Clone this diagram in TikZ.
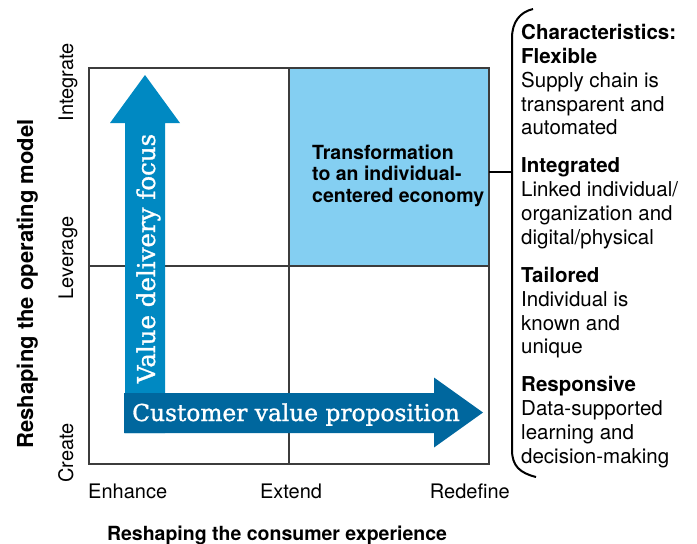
\documentclass[tikz,border=0pt]{standalone}
\usepackage{fontspec}
\setmainfont{TeX Gyre Heros}
\newfontfamily\slabfont[FakeBold=1.2]{DejaVu Serif}
\definecolor{skyfill}{RGB}{132,207,242}
\definecolor{focusblue}{RGB}{0,137,194}
\definecolor{propblue}{RGB}{0,103,158}
\definecolor{gridgray}{RGB}{60,60,60}

\begin{document}
\begin{tikzpicture}[x=1pt,y=-1pt,
  axislabel/.style={font=\fontsize{20}{24}\selectfont, inner sep=0pt},
  axistitle/.style={font=\fontsize{19.5}{23}\selectfont\bfseries, inner sep=0pt},
  arrowtext/.style={font=\fontsize{23.3}{28}\selectfont\slabfont, text=white, inner sep=0pt}]
\useasboundingbox (0,0) rectangle (697,544);
\node[fill=skyfill, minimum width=200pt, minimum height=198pt, inner sep=0pt] (goal) at (389,167) {};
\draw[gridgray, line width=1.4pt] (89,68) rectangle (489,464);
\draw[gridgray, line width=1.4pt] (289,68) -- (289,464);
\draw[gridgray, line width=1.4pt] (89,266) -- (489,266);
\fill[focusblue] (125,433) -- (125,123) -- (110,123) -- (145,75) -- (180,123) -- (165,123) -- (165,433) -- cycle;
\fill[propblue] (124,393) -- (434,393) -- (434,377.5) -- (483,412.5) -- (434,447.5) -- (434,433) -- (124,433) -- cycle;
\node[arrowtext, font=\fontsize{24.5}{28}\selectfont\slabfont, rotate=90, anchor=base] (focus) at (155,258.5) {Value delivery focus};
\node[arrowtext, anchor=base] (prop) at (296,421) {Customer value proposition};
\node[anchor=west, align=left, inner sep=0pt, font=\fontsize{19.5}{21.5}\selectfont\bfseries] (goaltext) at (312,175.5)
  {Transformation\\to an individual-\\centered economy};
\coordinate (brace) at (512,172);
\draw[black, line width=2pt] (533,9) .. controls (520,12) and (512,22) .. (512,38) -- (512,450) .. controls (512,466) and (520,473) .. (536,477);
\draw[black, line width=2pt] (goal.east |- brace) -- (brace);
\node[anchor=north west, align=left, inner sep=0pt, font=\fontsize{20.5}{23.8}\selectfont] (traits) at (521,24.2)
  {\textbf{Characteristics:}\\\textbf{Flexible}\\Supply chain is\\transparent and\\automated\\[14.3pt]
   \textbf{Integrated}\\Linked individual/\\organization and\\digital/physical\\[14.3pt]
   \textbf{Tailored}\\Individual is\\known and\\unique\\[14.3pt]
   \textbf{Responsive}\\Data-supported\\learning and\\decision-making};
\node[axislabel, anchor=base west] (enhance) at (88,498) {Enhance};
\node[axislabel, anchor=base] (extend) at (291,498) {Extend};
\node[axislabel, anchor=base east] (redefine) at (510,498) {Redefine};
\node[axislabel, rotate=90, anchor=base west] (create) at (73,483) {Create};
\node[axislabel, rotate=90, anchor=base] (leverage) at (73,258) {Leverage};
\node[axislabel, rotate=90, anchor=base east] (integrate) at (73,43) {Integrate};
\node[axistitle, anchor=base] (xtitle) at (277,540) {Reshaping the consumer experience};
\node[axistitle, font=\fontsize{22}{25}\selectfont\bfseries, rotate=90, anchor=base] (ytitle) at (33,284) {Reshaping the operating model};
\end{tikzpicture}
\end{document}
